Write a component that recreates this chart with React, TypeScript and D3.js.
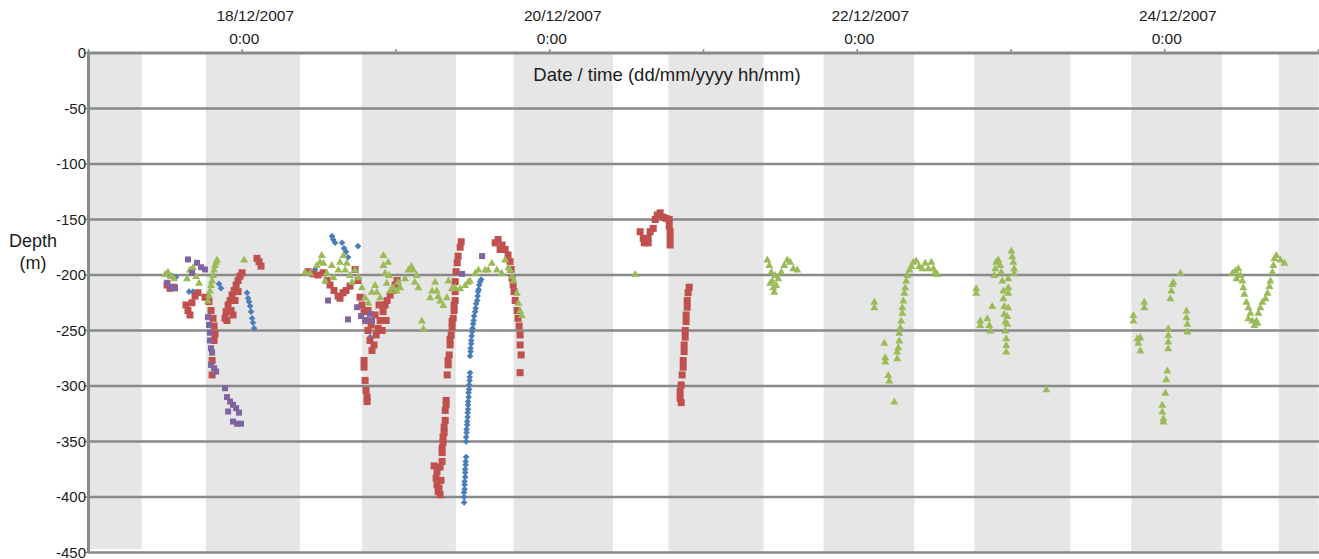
import { useEffect, useRef } from "react"
import * as d3 from "d3"

// times are decimal days of December 2007 (17.5 = 17/12/2007 12:00), depths in metres
const nightBands: [number, number][] = [
  [17.0, 17.346], [17.763, 18.376], [18.778, 19.389], [19.764, 20.411], [20.772, 21.39],
  [21.781, 22.371], [22.761, 23.386], [23.783, 24.373], [24.741, 25.0],
]

const yTicks = [0, -50, -100, -150, -200, -250, -300, -350, -400, -450]
const dayTicks = [17, 18, 19, 20, 21, 22, 23, 24, 25]
const labelledDays = [18, 20, 22, 24]

const blueSeries: [number, number][] = [
  [17.517, -200], [17.543, -201], [17.569, -202], [17.654, -215], [17.68, -215], [17.849, -208], [17.862, -212],
  [18.031, -216], [18.038, -221], [18.044, -224], [18.051, -228], [18.057, -233], [18.064, -239], [18.07, -243], [18.077, -248],
  [18.474, -195], [18.584, -165], [18.591, -168], [18.604, -171], [18.649, -171], [18.662, -176], [18.675, -179], [18.688, -184],
  [18.753, -174], [18.832, -256],
  [19.554, -204], [19.547, -206], [19.541, -209], [19.537, -213], [19.534, -215], [19.531, -219], [19.528, -223], [19.521, -226],
  [19.518, -230], [19.515, -233], [19.508, -237], [19.505, -241], [19.502, -244], [19.498, -248], [19.495, -251], [19.492, -255],
  [19.489, -259], [19.489, -262], [19.485, -266], [19.485, -269], [19.482, -273],
  [19.482, -288], [19.479, -292], [19.479, -295], [19.476, -299], [19.476, -303], [19.472, -306], [19.472, -310], [19.469, -314],
  [19.469, -317], [19.469, -321], [19.466, -324], [19.466, -328], [19.463, -332], [19.463, -335], [19.459, -339], [19.459, -342],
  [19.456, -346], [19.456, -350],
  [19.456, -364], [19.453, -368], [19.453, -371], [19.45, -375], [19.45, -378], [19.45, -382], [19.446, -386], [19.446, -389],
  [19.446, -393], [19.443, -396], [19.443, -400], [19.443, -405],
]

const redSeries: [number, number][] = [
  [17.511, -209], [17.53, -212], [17.556, -211], [17.634, -227], [17.647, -232], [17.66, -236], [17.673, -225], [17.693, -219],
  [17.712, -216], [17.758, -220], [17.784, -224], [17.797, -232], [17.81, -239], [17.817, -246], [17.823, -253], [17.817, -259],
  [17.804, -277], [17.804, -290], [17.888, -239], [17.895, -233], [17.908, -227], [17.921, -223], [17.934, -218], [17.947, -214],
  [17.96, -209], [17.973, -205], [17.986, -201], [17.999, -198], [17.927, -232], [17.953, -223], [17.973, -215], [17.901, -241],
  [17.94, -236], [18.096, -185], [18.109, -188], [18.122, -192],
  [18.428, -197], [18.461, -199], [18.493, -200], [18.526, -198], [18.552, -205], [18.571, -209], [18.597, -214], [18.623, -219],
  [18.636, -221], [18.656, -216], [18.675, -214], [18.701, -210], [18.734, -195], [18.753, -205], [18.766, -220], [18.779, -227],
  [18.792, -233], [18.805, -241], [18.818, -250], [18.831, -259], [18.844, -268], [18.857, -263], [18.871, -254], [18.884, -248],
  [18.897, -241], [18.916, -233], [18.929, -227], [18.942, -223], [18.962, -218], [18.981, -214], [18.994, -209], [19.007, -205],
  [18.838, -245], [18.864, -236], [18.89, -227], [18.91, -250], [18.936, -241], [18.818, -232],
  [18.792, -277], [18.792, -283], [18.799, -295], [18.805, -304], [18.812, -310], [18.812, -314],
  [19.424, -170], [19.417, -175], [19.404, -183], [19.398, -189], [19.391, -197], [19.385, -206], [19.385, -215], [19.385, -223],
  [19.378, -232], [19.372, -239], [19.365, -247], [19.359, -254], [19.352, -263], [19.346, -272], [19.339, -281], [19.333, -290],
  [19.378, -227], [19.365, -242], [19.352, -258], [19.339, -277],
  [19.326, -313], [19.32, -322], [19.32, -331], [19.313, -342], [19.306, -351], [19.3, -360], [19.3, -368], [19.287, -373],
  [19.267, -377], [19.261, -383], [19.267, -389], [19.274, -395], [19.287, -398], [19.248, -372], [19.293, -385], [19.28, -392],
  [19.326, -317], [19.313, -337], [19.306, -346], [19.3, -356],
  [19.645, -171], [19.664, -168], [19.69, -173], [19.71, -177], [19.729, -182], [19.742, -188], [19.749, -195], [19.755, -203],
  [19.762, -209], [19.768, -215], [19.775, -223], [19.788, -232], [19.794, -239], [19.801, -246], [19.807, -254], [19.807, -263],
  [19.814, -272], [19.807, -288], [19.677, -177],
  [20.588, -161], [20.608, -167], [20.621, -170], [20.64, -167], [20.653, -161], [20.673, -158], [20.686, -150], [20.699, -146],
  [20.718, -144], [20.738, -148], [20.757, -149], [20.777, -150], [20.777, -156], [20.783, -161], [20.783, -167], [20.783, -173],
  [20.615, -171], [20.64, -171],
  [20.907, -211], [20.9, -216], [20.894, -223], [20.894, -229], [20.887, -236], [20.887, -242], [20.881, -250], [20.881, -256],
  [20.874, -263], [20.874, -269], [20.868, -277], [20.868, -283], [20.861, -290], [20.855, -299], [20.848, -305], [20.848, -311],
  [20.855, -315],
]

const greenSeries: [number, number][] = [
  [17.498, -199], [17.517, -197], [17.537, -201], [17.556, -203], [17.641, -203], [17.66, -195], [17.68, -193], [17.699, -201],
  [17.719, -207], [17.777, -223], [17.784, -218], [17.79, -214], [17.797, -209], [17.804, -205], [17.81, -200], [17.817, -195],
  [17.823, -191], [17.83, -188], [17.836, -186], [18.012, -186],
  [18.409, -197], [18.441, -198], [18.485, -191], [18.517, -182], [18.528, -189], [18.55, -198], [18.582, -191], [18.593, -202],
  [18.625, -195], [18.658, -182], [18.68, -189], [18.701, -200], [18.734, -195], [18.755, -202], [18.778, -211], [18.799, -220],
  [18.82, -225], [18.843, -215], [18.875, -215], [18.897, -220], [18.918, -182], [18.918, -191], [18.929, -198], [18.94, -207],
  [18.962, -214], [18.983, -211], [19.005, -214], [19.027, -211], [19.059, -203], [19.081, -195], [19.113, -195], [19.135, -200],
  [19.146, -211], [19.168, -241], [19.178, -248], [19.222, -220], [19.254, -206], [19.265, -214], [19.287, -223], [19.308, -227],
  [19.331, -220], [19.341, -205], [19.363, -212], [19.385, -211], [19.417, -212], [19.45, -209], [19.482, -205], [19.515, -198],
  [19.536, -195], [19.58, -195], [19.623, -189], [19.656, -195], [19.688, -198], [19.71, -186], [19.731, -193], [19.764, -205],
  [19.786, -216], [19.796, -225], [19.807, -232], [19.818, -236],
  [18.506, -188], [18.636, -188], [18.669, -195], [18.714, -206], [18.864, -209], [18.949, -188], [18.955, -200], [19.014, -206],
  [19.1, -192], [19.122, -206], [19.235, -214], [19.274, -219], [19.469, -206], [19.599, -195], [19.742, -195], [19.755, -201],
  [18.539, -205],
  [20.556, -199],
  [21.415, -186], [21.428, -191], [21.441, -197], [21.447, -205], [21.454, -211], [21.46, -215], [21.473, -209], [21.486, -203],
  [21.506, -197], [21.525, -191], [21.545, -186], [21.564, -188], [21.584, -194], [21.61, -195], [21.434, -207], [21.467, -200],
  [22.111, -224], [22.111, -229], [22.176, -261], [22.182, -274], [22.182, -278], [22.202, -290], [22.208, -295], [22.241, -314],
  [22.26, -275], [22.26, -269], [22.267, -265], [22.273, -259], [22.273, -252], [22.28, -247], [22.286, -241], [22.293, -234],
  [22.293, -229], [22.3, -223], [22.306, -216], [22.312, -211], [22.319, -205], [22.325, -200], [22.339, -195], [22.352, -192],
  [22.365, -188], [22.384, -187], [22.404, -192], [22.423, -194], [22.442, -189], [22.462, -194], [22.482, -188], [22.495, -194],
  [22.508, -197], [22.521, -199],
  [22.774, -212], [22.774, -216], [22.8, -241], [22.8, -245], [22.846, -239], [22.859, -245], [22.865, -250], [22.878, -228],
  [22.891, -200], [22.898, -194], [22.904, -188], [22.917, -186], [22.93, -191], [22.937, -197], [22.943, -205], [22.95, -214],
  [22.95, -221], [22.956, -228], [22.956, -235], [22.963, -242], [22.963, -250], [22.969, -257], [22.969, -263], [22.969, -269],
  [22.982, -203], [22.982, -211], [22.982, -216], [22.982, -229], [22.976, -237], [22.976, -244], [23.002, -178], [23.008, -183],
  [23.015, -188], [23.021, -194], [23.021, -198], [23.23, -303],
  [23.796, -236], [23.796, -241], [23.822, -257], [23.828, -261], [23.841, -268], [23.841, -256], [23.867, -224], [23.867, -229],
  [23.984, -317], [23.984, -323], [23.991, -329], [23.991, -332], [24.004, -306], [24.01, -294], [24.017, -286], [24.023, -248],
  [24.023, -254], [24.023, -260], [24.023, -266], [24.036, -221], [24.043, -214], [24.049, -208], [24.056, -206], [24.102, -198],
  [24.141, -232], [24.141, -238], [24.147, -244], [24.147, -251],
  [24.44, -198], [24.459, -196], [24.479, -194], [24.492, -200], [24.505, -205], [24.511, -211], [24.518, -217], [24.531, -224],
  [24.544, -229], [24.557, -234], [24.57, -241], [24.583, -245], [24.596, -241], [24.609, -234], [24.622, -229], [24.635, -224],
  [24.655, -221], [24.668, -216], [24.681, -210], [24.687, -205], [24.7, -197], [24.707, -191], [24.713, -185], [24.726, -182],
  [24.752, -186], [24.778, -189], [24.466, -203], [24.544, -239], [24.603, -243],
]

const purpleSeries: [number, number][] = [
  [17.647, -186], [17.706, -189], [17.732, -193], [17.758, -195], [17.673, -198], [17.511, -207], [17.537, -211], [17.563, -212],
  [17.777, -238], [17.784, -245], [17.79, -252], [17.79, -259], [17.797, -266], [17.804, -270], [17.797, -281], [17.817, -284],
  [17.83, -287], [17.888, -302], [17.901, -310], [17.921, -314], [17.94, -317], [17.96, -320], [17.908, -323], [17.979, -324],
  [17.94, -332], [17.966, -334], [17.992, -334],
  [18.558, -223], [18.747, -229], [18.688, -240], [18.773, -237], [18.799, -241], [18.831, -235], [18.844, -241],
  [19.56, -183], [19.43, -199],
]

const toDate = (d: number) => new Date(new Date(2007, 11, 0).getTime() + d * 86400000)

export default function App() {
  const ref = useRef<SVGSVGElement>(null)

  useEffect(() => {
    const width = 1319
    const height = 559
    const left = 88.5
    const top = 53
    const bottom = 552.5
    const right = 1319
    const axisColor = '#898989'
    const textColor = '#1c1c1c'
    const font = '"Liberation Sans", Arial, sans-serif'

    const x = d3.scaleTime().domain([toDate(17), toDate(25)]).range([left, 1318.5])
    const y = d3.scaleLinear().domain([0, -450]).range([top, bottom])

    const svg = d3.select(ref.current)
    svg.selectAll('*').remove()
    svg.attr('width', width).attr('height', height).attr('viewBox', `0 0 ${width} ${height}`)

    // night shading
    svg.append('g')
      .selectAll('rect')
      .data(nightBands)
      .join('rect')
        .attr('x', d => x(toDate(d[0])))
        .attr('width', d => Math.min(right, x(toDate(d[1]))) - x(toDate(d[0])))
        .attr('y', top)
        .attr('height', (d, i) => (i === 0 ? bottom - 3.5 : bottom) - top)
        .attr('fill', '#e6e6e6')

    // horizontal gridlines
    svg.append('g')
      .selectAll('line')
      .data(yTicks.slice(1))
      .join('line')
        .attr('x1', left).attr('x2', right)
        .attr('y1', d => y(d)).attr('y2', d => y(d))
        .attr('stroke', axisColor)
        .attr('stroke-width', 2.4)

    // axis lines
    svg.append('path')
      .attr('d', `M${left} ${bottom + 1} V${top} H${right}`)
      .attr('fill', 'none')
      .attr('stroke', axisColor)
      .attr('stroke-width', 3)

    // x tick marks
    svg.append('g')
      .selectAll('line')
      .data(dayTicks)
      .join('line')
        .attr('x1', d => x(toDate(d))).attr('x2', d => x(toDate(d)))
        .attr('y1', top).attr('y2', top - 4)
        .attr('stroke', axisColor)
        .attr('stroke-width', 1.5)

    // y tick marks
    svg.append('g')
      .selectAll('line')
      .data(yTicks)
      .join('line')
        .attr('x1', left - 4).attr('x2', left)
        .attr('y1', d => y(d)).attr('y2', d => y(d))
        .attr('stroke', axisColor)
        .attr('stroke-width', 1.5)

    // y tick labels
    svg.append('g')
      .selectAll('text')
      .data(yTicks)
      .join('text')
        .attr('x', left - 2.5)
        .attr('y', d => y(d) + 5)
        .attr('text-anchor', 'end')
        .attr('font-family', font)
        .attr('font-size', 15)
        .attr('fill', textColor)
        .text(d => String(d))

    // x tick labels
    const fmtDate = d3.timeFormat('%d/%m/%Y')
    const fmtTime = d3.timeFormat('%-H:%M')
    const xl = svg.append('g')
      .attr('font-family', font)
      .attr('font-size', 15.5)
      .attr('fill', textColor)
      .attr('text-anchor', 'middle')
    xl.selectAll('text.date')
      .data(labelledDays)
      .join('text')
        .attr('class', 'date')
        .attr('x', d => x(toDate(d)) + 13)
        .attr('y', 21)
        .text(d => fmtDate(toDate(d)))
    xl.selectAll('text.time')
      .data(labelledDays)
      .join('text')
        .attr('class', 'time')
        .attr('x', d => x(toDate(d)) + 2)
        .attr('y', 44)
        .text(d => fmtTime(toDate(d)))

    // axis titles
    svg.append('text')
      .attr('x', 667).attr('y', 81)
      .attr('text-anchor', 'middle')
      .attr('font-family', font)
      .attr('font-size', 18.5)
      .attr('fill', textColor)
      .text('Date / time (dd/mm/yyyy hh/mm)')
    const yt = svg.append('text')
      .attr('text-anchor', 'middle')
      .attr('font-family', font)
      .attr('font-size', 18)
      .attr('fill', textColor)
    yt.append('tspan').attr('x', 33).attr('y', 247).text('Depth')
    yt.append('tspan').attr('x', 33).attr('y', 269).text('(m)')

    // series
    const plot = svg.append('g')
    const drawSeries = (data: [number, number][], path: string, color: string) => {
      plot.append('g')
        .selectAll('path')
        .data(data)
        .join('path')
          .attr('transform', d => `translate(${x(toDate(d[0]))},${y(d[1])})`)
          .attr('d', path)
          .attr('fill', color)
    }
    drawSeries(blueSeries, 'M0,-3.3L3.3,0L0,3.3L-3.3,0Z', '#4a7ebb')
    drawSeries(redSeries, 'M-3.5,-3.5H3.5V3.5H-3.5Z', '#c0504d')
    drawSeries(greenSeries, 'M0,-4L4,3H-4Z', '#9bbb59')
    drawSeries(purpleSeries, 'M-3,-3H3V3H-3Z', '#8064a2')
  }, [])

  return (
    <svg ref={ref} style={{ position: 'absolute', left: 0, top: 0, background: '#fff' }}></svg>
  )
}
